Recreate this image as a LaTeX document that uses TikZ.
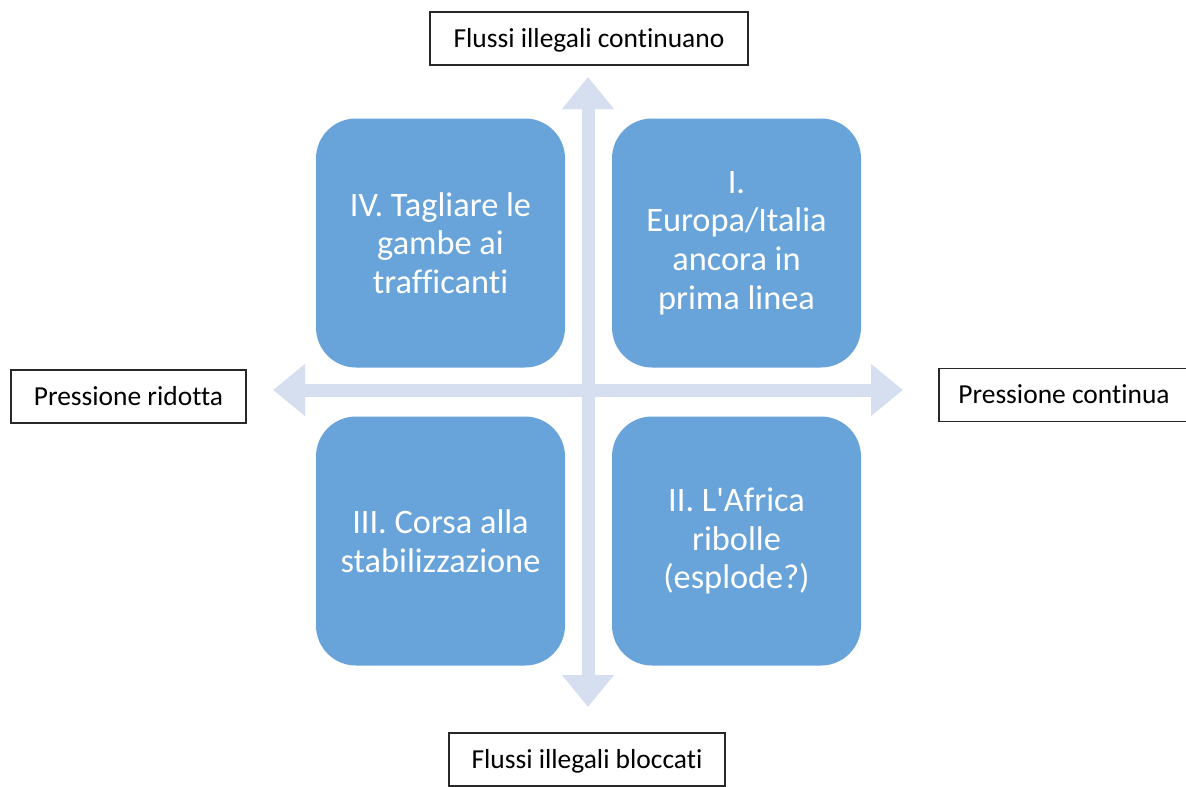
\documentclass[tikz,border=0pt]{standalone}
\usepackage{fontspec}
\setmainfont[Ligatures={TeXOff,NoCommon}]{Carlito}
\usetikzlibrary{arrows.meta}
\definecolor{boxblue}{RGB}{104,164,217}
\definecolor{arrowblue}{RGB}{214,223,240}
\definecolor{framegray}{RGB}{40,40,40}
\begin{document}
\begin{tikzpicture}[x=0.75pt,y=-0.75pt,
  quad/.style={fill=boxblue, draw=none, rounded corners=30pt,
    minimum width=186.75pt, minimum height=186.75pt, inner sep=0pt,
    align=center, text=white, font=\fontsize{25.75pt}{29pt}\selectfont},
  axislabel/.style={draw=framegray, line width=1.1pt, fill=white, inner sep=0pt,
    minimum height=39.75pt, font=\fontsize{20.6pt}{24pt}\selectfont,
    text=black, text height=18pt, text depth=5.25pt},
  axisarrow/.style={draw=arrowblue, line width=9.75pt,
    {Triangle[width=37.5pt,length=24pt]}-{Triangle[width=37.5pt,length=24pt]}}]
\fill[white] (0,0) rectangle (1186,786);
\useasboundingbox (0,0) rectangle (1186,786);

\coordinate (vtop) at (588,77);
\coordinate (vbot) at (588,707);
\coordinate (hleft) at (273,390);
\coordinate (hright) at (903,390);
\draw[axisarrow] (vtop) -- (vbot);
\draw[axisarrow] (hleft) -- (hright);

\node[quad] (q4) at (440.5,243) {IV. Tagliare le\\gambe ai\\trafficanti};
\node[quad] (q1) at (736.5,243) {I.\\Europa/Italia\\ancora in\\prima linea};
\node[quad] (q3) at (440.5,541) {III. Corsa alla\\stabilizzazione};
\node[quad] (q2) at (736.5,541) {II. L'Africa\\ribolle\\(esplode?)};

\node[axislabel, minimum width=238.5pt] (ltop) at (589,38.5) {Flussi illegali continuano};
\node[axislabel, minimum width=176.25pt] (lleft) at (128.5,396.5) {Pressione ridotta};
\node[axislabel, minimum width=187.5pt] (lright) at (1064,395) {Pressione continua};
\node[axislabel, minimum width=207pt] (lbot) at (587,759.5) {Flussi illegali bloccati};
\end{tikzpicture}
\end{document}
